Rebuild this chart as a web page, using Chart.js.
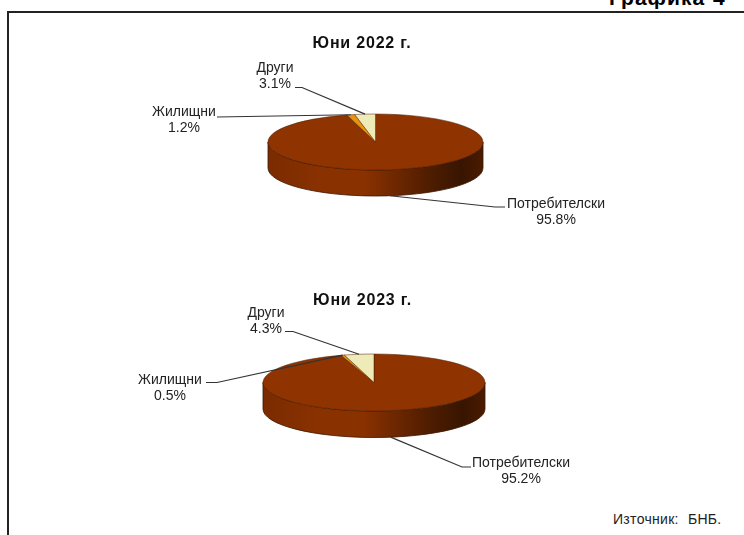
<!DOCTYPE html>
<html>
<head>
<meta charset="utf-8">
<script src="https://cdn.jsdelivr.net/npm/chart.js@4"></script>
<style>
html, body { margin: 0; padding: 0; background: #fff; width: 744px; height: 535px; overflow: hidden; }
body { position: relative; font-family: "Liberation Sans", Arial, sans-serif; color: #222; }
canvas { position: absolute; left: 0; }
#marco { position: absolute; left: 7px; top: 11px; width: 737px; height: 530px; border-left: 2px solid #222; border-top: 2px solid #222; box-sizing: border-box; }
#grafika { position: absolute; left: 609px; top: -13px; font-size: 21px; line-height: 21px; font-weight: bold; color: #000; letter-spacing: 1px; word-spacing: 1px; white-space: nowrap; }
#fuente { position: absolute; left: 613px; top: 511px; font-size: 14px; line-height: 16px; letter-spacing: .3px; word-spacing: 5px; white-space: nowrap; }
</style>
</head>
<body>
<div id="marco"></div>
<div id="grafika">Графика 4</div>
<canvas id="pie2022" width="744" height="240" style="top:22px"></canvas>
<canvas id="pie2023" width="744" height="241" style="top:262px"></canvas>
<div id="fuente">Източник: БНБ.</div>
<script>
const categories = ['Потребителски', 'Жилищни', 'Други'];
const values2022 = [95.8, 1.2, 3.1];
const values2023 = [95.2, 0.5, 4.3];
const sliceColors = ['#8f3300', '#e8930c', '#eeebb9'];

// pseudo 3D: the pie is squashed on y and a wall is painted below it
const pie3d = {
    id: 'pie3d',
    beforeDatasetsDraw(chart, args, opts) {
        const c = chart.ctx;
        const arc = chart.getDatasetMeta(0).data[0];
        const rx = arc.outerRadius, ry = opts.ry;
        const g = c.createLinearGradient(arc.x - rx, 0, arc.x + rx, 0);
        g.addColorStop(0, '#7a2b00');
        g.addColorStop(0.25, '#8a3100');
        g.addColorStop(0.45, '#8a3100');
        g.addColorStop(0.75, '#4f1d00');
        g.addColorStop(0.9, '#381500');
        g.addColorStop(1, '#4a1b00');
        c.save();
        c.beginPath();
        c.ellipse(arc.x, arc.y, rx, ry, 0, 0, Math.PI);
        c.ellipse(arc.x, arc.y + opts.depth, rx, ry, 0, Math.PI, 0, true);
        c.closePath();
        c.fillStyle = g;
        c.fill();
        c.strokeStyle = '#3a1700';
        c.lineWidth = 0.8;
        c.stroke();
        c.restore();
        c.save();
        c.translate(arc.x, arc.y);
        c.scale(1, ry / rx);
        c.translate(-arc.x, -arc.y);
    },
    afterDatasetsDraw(chart) {
        chart.ctx.restore();
    },
    afterDraw(chart, args, opts) {
        const c = chart.ctx;
        const arcs = chart.getDatasetMeta(0).data;
        const vals = chart.data.datasets[0].data;
        c.save();
        c.textAlign = 'center';
        c.textBaseline = 'alphabetic';
        c.font = 'bold 16px "Liberation Sans", Arial, sans-serif';
        c.letterSpacing = '0.8px';
        c.fillStyle = '#111';
        c.fillText(opts.title, opts.titleX, opts.titleY);
        c.letterSpacing = '0px';
        opts.labels.forEach((lb, i) => {
            const a = arcs[i];
            const mid = (a.startAngle + a.endAngle) / 2;
            const front = Math.sin(mid) > 0.5 ? opts.depth : 0;
            const px = a.x + a.outerRadius * Math.cos(mid);
            const py = a.y + opts.ry * Math.sin(mid) + front;
            c.strokeStyle = '#333';
            c.lineWidth = 1.2;
            c.beginPath();
            c.moveTo(lb.lineX, lb.elbowY);
            c.lineTo(lb.elbowX, lb.elbowY);
            c.lineTo(px, py);
            c.stroke();
            c.fillStyle = '#222';
            c.font = '14px "Liberation Sans", Arial, sans-serif';
            c.fillText(categories[i], lb.x, lb.y);
            c.fillText(vals[i].toFixed(1) + '%', lb.x, lb.y + 15.5);
        });
        c.restore();
    }
};

function pie(id, values, opts) {
    return new Chart(document.getElementById(id), {
        type: 'pie',
        data: {
            labels: categories,
            datasets: [{
                data: values,
                backgroundColor: sliceColors,
                borderColor: '#4a1c00',
                borderWidth: 0.8,
                radius: opts.radius
            }]
        },
        options: {
            responsive: false,
            animation: false,
            layout: { padding: { left: opts.shift } },
            plugins: { legend: { display: false }, tooltip: { enabled: false }, pie3d: opts }
        },
        plugins: [pie3d]
    });
}

pie('pie2022', values2022, {
    radius: 107.5, ry: 28, depth: 26, shift: 7,
    title: 'Юни 2022 г.', titleX: 362, titleY: 26,
    labels: [
        { x: 556, y: 186, lineX: 505, elbowX: 495, elbowY: 185 },
        { x: 184, y: 94, lineX: 217, elbowX: 217, elbowY: 95 },
        { x: 275, y: 50, lineX: 295, elbowX: 302, elbowY: 65.5 }
    ]
});
pie('pie2023', values2023, {
    radius: 111, ry: 28.5, depth: 26.5, shift: 4,
    title: 'Юни 2023 г.', titleX: 362.5, titleY: 43,
    labels: [
        { x: 521, y: 205, lineX: 471, elbowX: 462, elbowY: 205 },
        { x: 170, y: 122, lineX: 206, elbowX: 217, elbowY: 120.5 },
        { x: 266, y: 55, lineX: 285, elbowX: 293, elbowY: 69.5 }
    ]
});
</script>
</body>
</html>
